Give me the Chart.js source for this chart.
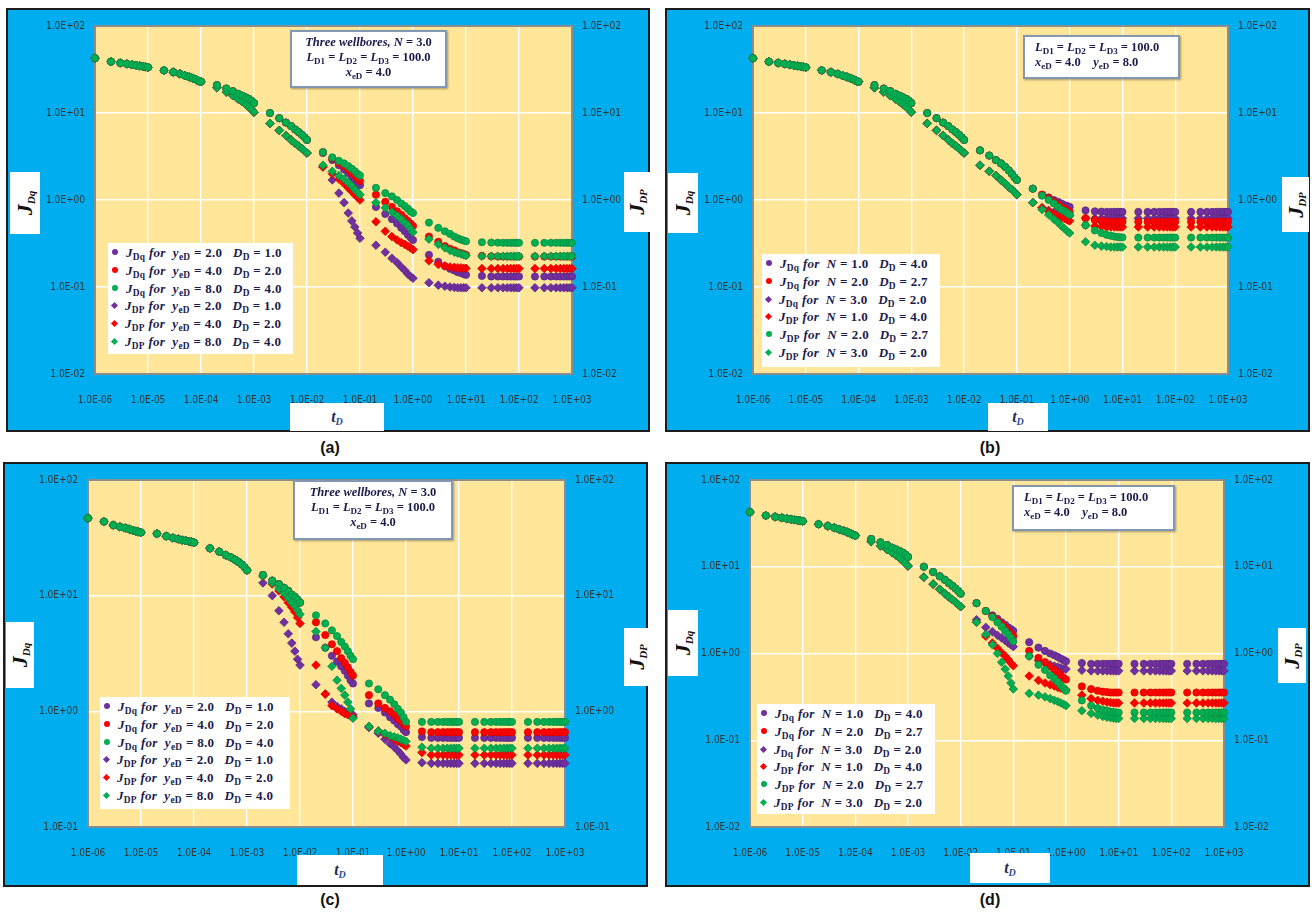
<!DOCTYPE html>
<html>
<head>
<meta charset="utf-8">
<script src="https://cdn.jsdelivr.net/npm/chart.js@4.4.0/dist/chart.umd.min.js"></script>
<style>
  html, body { margin: 0; padding: 0; background: #fff; }
  body { width: 1315px; height: 917px; position: relative; overflow: hidden; }
  .panel { position: absolute; box-sizing: border-box; border: 2px solid #1c1c1c; background: #00AEEF; }
  .panel canvas { position: absolute; left: 0; top: 0; }
  .box { position: absolute; background: #fff; box-sizing: border-box; }
  .note { border: 2px solid #8497B0; box-shadow: 1px 1px 2px rgba(0,0,0,0.35);
          font-family: 'Liberation Serif', 'DejaVu Serif', serif; font-weight: bold;
          font-size: 12.5px; color: #1b1b4b; line-height: 15px; padding-top: 3px; }
  .legend { font-family: 'Liberation Serif', 'DejaVu Serif', serif; font-weight: bold;
            font-size: 13px; color: #1b1b4b; letter-spacing: 0.3px; }
  .legend .row { position: absolute; left: 4px; white-space: nowrap; line-height: 15px; }
  .mk { display: inline-block; width: 6px; height: 6px; margin-right: 8px; vertical-align: 2px; }
  .mk.circle { border-radius: 50%; }
  .mk.rectRot { width: 5px; height: 5px; transform: rotate(45deg); }
  sub { font-size: 0.72em; vertical-align: -0.3em; line-height: 0; }
  .ttl { font-family: 'Liberation Serif', 'DejaVu Serif', serif; font-weight: bold; font-style: italic; color: #111; }
  .ttl .in { position: absolute; left: 50%; top: 50%; white-space: nowrap; line-height: 1; }
  .cap { position: absolute; font: bold 16px 'Liberation Sans', Arial, sans-serif; color: #111; transform: translateX(-50%); }
</style>
</head>
<body>
<script>
// sample times (dimensionless time t_D)
const tD = [
  1e-6, 2e-6, 3e-6, 4e-6, 5e-6, 6e-6, 7e-6, 8e-6, 9e-6,
  1e-5, 2e-5, 3e-5, 4e-5, 5e-5, 6e-5, 7e-5, 8e-5, 9e-5,
  1e-4, 2e-4, 3e-4, 4e-4, 5e-4, 6e-4, 7e-4, 8e-4, 9e-4,
  1e-3, 2e-3, 3e-3, 4e-3, 5e-3, 6e-3, 7e-3, 8e-3, 9e-3,
  1e-2, 2e-2, 3e-2, 4e-2, 5e-2, 6e-2, 7e-2, 8e-2, 9e-2,
  1e-1, 2e-1, 3e-1, 4e-1, 5e-1, 6e-1, 7e-1, 8e-1, 9e-1,
  1, 2, 3, 4, 5, 6, 7, 8, 9,
  10, 20, 30, 40, 50, 60, 70, 80, 90,
  100, 200, 300, 400, 500, 600, 700, 800, 900,
  1000
];
const xTicks = [1e-6, 1e-5, 1e-4, 1e-3, 1e-2, 1e-1, 1, 10, 100, 1000];
const yTicksWide = [1e-2, 1e-1, 1, 10, 100];
const yTicksNarrow = [1e-1, 1, 10, 100];

// early time, panels a, b, d (1e-6 .. 1e-2)
const earlyQ = [
  42.7, 38.9, 37.6, 36.7, 35.9, 35.3, 34.8, 34.3, 33.9,
  33.5, 30.9, 29.5, 28.2, 26.9, 26.0, 25.1, 24.3, 23.4,
  22.9, 20.9, 19.1, 17.8, 16.6, 15.8, 15.1, 14.5, 13.8,
  13.0, 10.0, 8.71, 7.76, 7.08, 6.46, 6.03, 5.62, 5.25,
  4.90
];
const earlyP = [
  42.7, 38.9, 37.6, 36.7, 35.9, 35.3, 34.8, 34.3, 33.9,
  33.5, 30.9, 29.5, 28.2, 26.9, 26.0, 25.1, 24.3, 23.4,
  22.9, 19.5, 17.4, 15.8, 14.5, 13.5, 12.6, 11.7, 11.0,
  10.2, 7.59, 6.31, 5.50, 4.90, 4.47, 4.17, 3.89, 3.67,
  3.47
];

// panel a, 2e-2 .. 1e3
const aQ2 = [
  3.47, 2.88, 2.51, 2.24, 2.04, 1.86, 1.70, 1.58, 1.48,
  0.832, 0.692, 0.603, 0.537, 0.479, 0.437, 0.398, 0.372, 0.347,
  0.234, 0.195, 0.174, 0.162, 0.155, 0.148, 0.145, 0.141, 0.138,
  0.134, 0.132, 0.132, 0.132, 0.132, 0.132, 0.132, 0.132, 0.132,
  0.132, 0.132, 0.132, 0.132, 0.132, 0.132, 0.132, 0.132, 0.132
];
const aQ4 = [
  3.55, 3.02, 2.69, 2.45, 2.24, 2.04, 1.91, 1.78, 1.66,
  1.15, 0.955, 0.832, 0.741, 0.676, 0.617, 0.575, 0.537, 0.501,
  0.380, 0.331, 0.295, 0.275, 0.263, 0.251, 0.245, 0.240, 0.234,
  0.228, 0.225, 0.224, 0.224, 0.224, 0.224, 0.224, 0.224, 0.224,
  0.224, 0.224, 0.224, 0.224, 0.224, 0.224, 0.224, 0.224, 0.224
];
const aQ8 = [
  3.55, 3.09, 2.82, 2.63, 2.45, 2.29, 2.14, 2.00, 1.91,
  1.38, 1.20, 1.10, 1.00, 0.912, 0.851, 0.794, 0.741, 0.708,
  0.550, 0.479, 0.437, 0.407, 0.380, 0.363, 0.351, 0.343, 0.335,
  0.327, 0.324, 0.323, 0.322, 0.322, 0.322, 0.322, 0.322, 0.322,
  0.322, 0.322, 0.322, 0.322, 0.322, 0.322, 0.322, 0.322, 0.322
];
const aP2 = [
  2.40, 1.70, 1.20, 0.933, 0.708, 0.575, 0.490, 0.417, 0.363,
  0.302, 0.251, 0.214, 0.191, 0.170, 0.155, 0.141, 0.132, 0.126,
  0.112, 0.105, 0.102, 0.100, 0.099, 0.098, 0.098, 0.098, 0.098,
  0.098, 0.098, 0.098, 0.098, 0.098, 0.098, 0.098, 0.098, 0.098,
  0.098, 0.098, 0.098, 0.098, 0.098, 0.098, 0.098, 0.098, 0.098
];
const aP4 = [
  2.40, 2.00, 1.74, 1.55, 1.38, 1.26, 1.15, 1.07, 1.00,
  0.562, 0.437, 0.380, 0.347, 0.324, 0.309, 0.295, 0.282, 0.269,
  0.200, 0.182, 0.174, 0.170, 0.168, 0.166, 0.166, 0.164, 0.164,
  0.163, 0.163, 0.163, 0.163, 0.163, 0.163, 0.163, 0.163, 0.163,
  0.163, 0.163, 0.163, 0.163, 0.163, 0.163, 0.163, 0.163, 0.163
];
const aP8 = [
  2.51, 2.14, 1.91, 1.74, 1.58, 1.45, 1.32, 1.23, 1.15,
  0.933, 0.813, 0.724, 0.661, 0.603, 0.550, 0.513, 0.468, 0.427,
  0.355, 0.309, 0.282, 0.263, 0.251, 0.245, 0.240, 0.234, 0.229,
  0.226, 0.226, 0.226, 0.226, 0.226, 0.226, 0.226, 0.226, 0.226,
  0.226, 0.226, 0.226, 0.226, 0.226, 0.226, 0.226, 0.226, 0.226
];

// panel b, 2e-2 .. 1e3
const bQ1 = [
  3.72, 3.24, 2.88, 2.63, 2.40, 2.19, 2.00, 1.82, 1.70,
  1.35, 1.15, 1.07, 1.00, 0.955, 0.912, 0.871, 0.851, 0.832,
  0.759, 0.741, 0.735, 0.730, 0.730, 0.730, 0.730, 0.730, 0.730,
  0.730, 0.730, 0.730, 0.730, 0.730, 0.730, 0.730, 0.730, 0.730,
  0.730, 0.730, 0.730, 0.730, 0.730, 0.730, 0.730, 0.730, 0.730
];
const bQ2 = [
  3.72, 3.24, 2.88, 2.63, 2.40, 2.19, 2.00, 1.82, 1.70,
  1.35, 1.15, 1.05, 0.955, 0.891, 0.832, 0.794, 0.759, 0.724,
  0.617, 0.589, 0.575, 0.569, 0.562, 0.562, 0.562, 0.562, 0.562,
  0.562, 0.562, 0.562, 0.562, 0.562, 0.562, 0.562, 0.562, 0.562,
  0.562, 0.562, 0.562, 0.562, 0.562, 0.562, 0.562, 0.562, 0.562
];
const bQ3 = [
  3.72, 3.24, 2.88, 2.63, 2.40, 2.19, 2.00, 1.82, 1.70,
  1.35, 1.12, 1.00, 0.912, 0.832, 0.776, 0.741, 0.708, 0.676,
  0.513, 0.447, 0.417, 0.398, 0.389, 0.380, 0.376, 0.372, 0.372,
  0.370, 0.370, 0.370, 0.370, 0.370, 0.370, 0.370, 0.370, 0.370,
  0.370, 0.370, 0.370, 0.370, 0.370, 0.370, 0.370, 0.370, 0.370
];
const bP1 = [
  2.51, 2.14, 1.91, 1.70, 1.55, 1.41, 1.32, 1.23, 1.15,
  0.933, 0.813, 0.759, 0.724, 0.708, 0.692, 0.676, 0.668, 0.661,
  0.620, 0.615, 0.615, 0.615, 0.615, 0.615, 0.615, 0.615, 0.615,
  0.615, 0.615, 0.615, 0.615, 0.615, 0.615, 0.615, 0.615, 0.615,
  0.615, 0.615, 0.615, 0.615, 0.615, 0.615, 0.615, 0.615, 0.615
];
const bP2 = [
  2.51, 2.14, 1.91, 1.70, 1.55, 1.41, 1.32, 1.23, 1.15,
  0.933, 0.813, 0.741, 0.692, 0.661, 0.631, 0.610, 0.589, 0.575,
  0.513, 0.501, 0.495, 0.490, 0.490, 0.490, 0.490, 0.490, 0.490,
  0.490, 0.490, 0.490, 0.490, 0.490, 0.490, 0.490, 0.490, 0.490,
  0.490, 0.490, 0.490, 0.490, 0.490, 0.490, 0.490, 0.490, 0.490
];
const bP3 = [
  2.51, 2.14, 1.91, 1.70, 1.55, 1.41, 1.32, 1.23, 1.15,
  0.933, 0.776, 0.676, 0.603, 0.550, 0.501, 0.468, 0.437, 0.417,
  0.331, 0.302, 0.295, 0.292, 0.288, 0.288, 0.288, 0.288, 0.288,
  0.288, 0.288, 0.288, 0.288, 0.288, 0.288, 0.288, 0.288, 0.288,
  0.288, 0.288, 0.288, 0.288, 0.288, 0.288, 0.288, 0.288, 0.288
];

// panel c, 1e-6 .. 1e-3 shared, then 2e-3 .. 1e3 per series
const earlyC = [
  46.8, 43.7, 40.7, 39.4, 38.5, 37.6, 36.7, 36.1, 35.6,
  35.2, 34.3, 32.7, 31.6, 30.9, 30.2, 29.9, 29.5, 29.2,
  28.8, 25.7, 24.0, 22.4, 21.4, 20.4, 19.5, 18.6, 17.6,
  16.6
];
const cQ2 = [
  15.1, 13.5, 12.6, 11.7, 11.0, 10.2, 9.77, 9.23, 8.71,
  4.37, 3.55, 3.02, 2.69, 2.45, 2.24, 2.04, 1.86, 1.74,
  1.17, 1.07, 0.977, 0.891, 0.832, 0.776, 0.741, 0.692, 0.661,
  0.600, 0.590, 0.590, 0.590, 0.590, 0.590, 0.590, 0.590, 0.590,
  0.590, 0.590, 0.590, 0.590, 0.590, 0.590, 0.590, 0.590, 0.590,
  0.590, 0.590, 0.590, 0.590, 0.590, 0.590, 0.590, 0.590, 0.590
];
const cQ4 = [
  15.1, 13.5, 12.6, 11.7, 11.0, 10.2, 9.77, 9.23, 8.71,
  5.89, 4.57, 3.80, 3.31, 2.88, 2.63, 2.40, 2.19, 2.04,
  1.38, 1.17, 1.07, 1.00, 0.933, 0.871, 0.832, 0.776, 0.741,
  0.670, 0.660, 0.660, 0.660, 0.660, 0.660, 0.660, 0.660, 0.660,
  0.660, 0.660, 0.660, 0.660, 0.660, 0.660, 0.660, 0.660, 0.660,
  0.660, 0.660, 0.660, 0.660, 0.660, 0.660, 0.660, 0.660, 0.660
];
const cQ8 = [
  15.1, 13.5, 12.6, 11.7, 11.0, 10.2, 9.77, 9.23, 8.71,
  6.76, 5.75, 5.01, 4.47, 3.98, 3.63, 3.31, 3.02, 2.82,
  1.74, 1.55, 1.38, 1.26, 1.15, 1.05, 0.977, 0.891, 0.813,
  0.810, 0.810, 0.810, 0.810, 0.810, 0.810, 0.810, 0.810, 0.810,
  0.810, 0.810, 0.810, 0.810, 0.810, 0.810, 0.810, 0.810, 0.810,
  0.810, 0.810, 0.810, 0.810, 0.810, 0.810, 0.810, 0.810, 0.810
];
const cP2 = [
  12.9, 10.0, 7.41, 5.89, 4.68, 3.89, 3.31, 2.82, 2.51,
  1.70, 1.41, 1.20, 1.10, 1.05, 1.00, 0.977, 0.955, 0.933,
  0.724, 0.646, 0.575, 0.525, 0.490, 0.457, 0.427, 0.398, 0.380,
  0.360, 0.355, 0.355, 0.355, 0.355, 0.355, 0.355, 0.355, 0.355,
  0.355, 0.355, 0.355, 0.355, 0.355, 0.355, 0.355, 0.355, 0.355,
  0.355, 0.355, 0.355, 0.355, 0.355, 0.355, 0.355, 0.355, 0.355
];
const cP4 = [
  14.8, 12.6, 11.0, 9.77, 8.71, 7.94, 7.24, 6.46, 5.75,
  2.51, 1.41, 1.12, 1.05, 1.00, 0.955, 0.933, 0.912, 0.891,
  0.741, 0.676, 0.631, 0.603, 0.575, 0.550, 0.537, 0.519, 0.501,
  0.440, 0.420, 0.420, 0.420, 0.420, 0.420, 0.420, 0.420, 0.420,
  0.420, 0.420, 0.420, 0.420, 0.420, 0.420, 0.420, 0.420, 0.420,
  0.420, 0.420, 0.420, 0.420, 0.420, 0.420, 0.420, 0.420, 0.420
];
const cP8 = [
  14.8, 12.9, 11.5, 10.5, 9.55, 8.71, 8.13, 7.50, 6.92,
  4.90, 3.55, 2.45, 1.86, 1.58, 1.38, 1.20, 1.05, 0.871,
  0.741, 0.676, 0.646, 0.617, 0.603, 0.589, 0.575, 0.562, 0.550,
  0.490, 0.480, 0.480, 0.480, 0.480, 0.480, 0.480, 0.480, 0.480,
  0.480, 0.480, 0.480, 0.480, 0.480, 0.480, 0.480, 0.480, 0.480,
  0.480, 0.480, 0.480, 0.480, 0.480, 0.480, 0.480, 0.480, 0.480
];

// panel d, 2e-2 .. 1e3
const dQ1 = [
  3.80, 3.09, 2.75, 2.51, 2.29, 2.14, 2.00, 1.91, 1.82,
  1.35, 1.17, 1.07, 1.00, 0.955, 0.912, 0.871, 0.841, 0.813,
  0.776, 0.760, 0.760, 0.760, 0.760, 0.760, 0.760, 0.760, 0.760,
  0.760, 0.760, 0.760, 0.760, 0.760, 0.760, 0.760, 0.760, 0.760,
  0.760, 0.760, 0.760, 0.760, 0.760, 0.760, 0.760, 0.760, 0.760
];
const dQ2 = [
  3.80, 3.09, 2.69, 2.40, 2.19, 2.00, 1.82, 1.70, 1.58,
  1.07, 0.891, 0.794, 0.708, 0.646, 0.603, 0.562, 0.525, 0.501,
  0.417, 0.389, 0.372, 0.363, 0.359, 0.355, 0.355, 0.355, 0.355,
  0.355, 0.355, 0.355, 0.355, 0.355, 0.355, 0.355, 0.355, 0.355,
  0.355, 0.355, 0.355, 0.355, 0.355, 0.355, 0.355, 0.355, 0.355
];
const dQ3 = [
  3.80, 3.09, 2.63, 2.29, 2.04, 1.82, 1.66, 1.51, 1.38,
  0.933, 0.741, 0.646, 0.562, 0.513, 0.468, 0.427, 0.398, 0.372,
  0.288, 0.251, 0.234, 0.224, 0.219, 0.214, 0.211, 0.209, 0.209,
  0.209, 0.209, 0.209, 0.209, 0.209, 0.209, 0.209, 0.209, 0.209,
  0.209, 0.209, 0.209, 0.209, 0.209, 0.209, 0.209, 0.209, 0.209
];
const dP1 = [
  2.45, 2.00, 1.78, 1.62, 1.51, 1.41, 1.32, 1.26, 1.20,
  0.933, 0.832, 0.776, 0.741, 0.716, 0.700, 0.684, 0.668, 0.661,
  0.640, 0.631, 0.631, 0.631, 0.631, 0.631, 0.631, 0.631, 0.631,
  0.631, 0.631, 0.631, 0.631, 0.631, 0.631, 0.631, 0.631, 0.631,
  0.631, 0.631, 0.631, 0.631, 0.631, 0.631, 0.631, 0.631, 0.631
];
const dP2 = [
  2.29, 1.58, 1.32, 1.15, 1.02, 0.933, 0.851, 0.776, 0.724,
  0.550, 0.490, 0.457, 0.437, 0.422, 0.407, 0.398, 0.389, 0.380,
  0.331, 0.302, 0.288, 0.282, 0.275, 0.272, 0.269, 0.269, 0.269,
  0.269, 0.269, 0.269, 0.269, 0.269, 0.269, 0.269, 0.269, 0.269,
  0.269, 0.269, 0.269, 0.269, 0.269, 0.269, 0.269, 0.269, 0.269
];
const dP3 = [
  2.29, 1.66, 1.26, 1.00, 0.794, 0.661, 0.550, 0.457, 0.389,
  0.347, 0.331, 0.316, 0.302, 0.288, 0.279, 0.269, 0.260, 0.251,
  0.219, 0.204, 0.195, 0.188, 0.184, 0.182, 0.180, 0.178, 0.178,
  0.178, 0.178, 0.178, 0.178, 0.178, 0.178, 0.178, 0.178, 0.178,
  0.178, 0.178, 0.178, 0.178, 0.178, 0.178, 0.178, 0.178, 0.178
];

const PURPLE = '#7030A0', RED = '#FF0000', GREEN = '#00B050';
const EDGE = { [PURPLE]: '#5b2785', [RED]: '#d90000', [GREEN]: '#0a8c44' };

// label pieces
const Jq = '<i>J</i><sub>Dq</sub>';
const Jp = '<i>J</i><sub>DP</sub>';
const yeD = v => '<i>y</i><sub>eD</sub> = ' + v;
const DD = v => '<i>D</i><sub>D</sub> = ' + v;
const NN = v => '<i>N</i> = ' + v;
const forY = (J, y, d) => J + ' <i>for</i>&nbsp; ' + yeD(y) + '&nbsp;&nbsp; ' + DD(d);
const forN = (J, n, d) => J + ' <i>for</i>&nbsp; ' + NN(n) + '&nbsp;&nbsp; ' + DD(d);

const noteWell = [
  '<i>Three wellbores, N</i> = 3.0',
  '<i>L</i><sub>D1</sub> = <i>L</i><sub>D2</sub> = <i>L</i><sub>D3</sub> = 100.0',
  '<i>x</i><sub>eD</sub> = 4.0'
];
const noteLen = [
  '<i>L</i><sub>D1</sub> = <i>L</i><sub>D2</sub> = <i>L</i><sub>D3</sub> = 100.0',
  '<i>x</i><sub>eD</sub> = 4.0 &nbsp;&nbsp; <i>y</i><sub>eD</sub> = 8.0'
];

const legendY = [
  { html: forY(Jq, '2.0', '1.0'), color: PURPLE, shape: 'circle' },
  { html: forY(Jq, '4.0', '2.0'), color: RED, shape: 'circle' },
  { html: forY(Jq, '8.0', '4.0'), color: GREEN, shape: 'circle' },
  { html: forY(Jp, '2.0', '1.0'), color: PURPLE, shape: 'rectRot' },
  { html: forY(Jp, '4.0', '2.0'), color: RED, shape: 'rectRot' },
  { html: forY(Jp, '8.0', '4.0'), color: GREEN, shape: 'rectRot' }
];
const legendN = [
  { html: forN(Jq, '1.0', '4.0'), color: PURPLE, shape: 'circle' },
  { html: forN(Jq, '2.0', '2.7'), color: RED, shape: 'circle' },
  { html: forN(Jq, '3.0', '2.0'), color: PURPLE, shape: 'rectRot' },
  { html: forN(Jp, '1.0', '4.0'), color: RED, shape: 'rectRot' },
  { html: forN(Jp, '2.0', '2.7'), color: GREEN, shape: 'circle' },
  { html: forN(Jp, '3.0', '2.0'), color: GREEN, shape: 'rectRot' }
];

const panels = [
  {
    cap: '(a)', capPos: [330, 439],
    box: [6, 8, 644, 424], area: { left: 87, right: 76, top: 16, bottom: 56 },
    yMin: 1e-2, yMax: 1e2, yTicks: yTicksWide,
    series: [
      { label: 'JDq yeD=2', data: earlyQ.concat(aQ2), color: PURPLE, shape: 'circle', z: 4 },
      { label: 'JDq yeD=4', data: earlyQ.concat(aQ4), color: RED, shape: 'circle', z: 2 },
      { label: 'JDq yeD=8', data: earlyQ.concat(aQ8), color: GREEN, shape: 'circle', z: 0 },
      { label: 'JDP yeD=2', data: earlyP.concat(aP2), color: PURPLE, shape: 'rectRot', z: 5 },
      { label: 'JDP yeD=4', data: earlyP.concat(aP4), color: RED, shape: 'rectRot', z: 3 },
      { label: 'JDP yeD=8', data: earlyP.concat(aP8), color: GREEN, shape: 'rectRot', z: 1 }
    ],
    note: { pos: [290, 30, 157, 58], lines: noteWell, align: 'center' },
    legend: { pos: [108, 243, 185, 111], rows: legendY },
    yTitle: [10, 172, 30, 62], y2Title: [624, 172, 26, 60], xTitle: [290, 403, 94, 28]
  },
  {
    cap: '(b)', capPos: [990, 439],
    box: [665, 8, 645, 424], area: { left: 86, right: 80, top: 16, bottom: 56 },
    yMin: 1e-2, yMax: 1e2, yTicks: yTicksWide,
    series: [
      { label: 'JDq N=1', data: earlyQ.concat(bQ1), color: PURPLE, shape: 'circle', z: 4 },
      { label: 'JDq N=2', data: earlyQ.concat(bQ2), color: RED, shape: 'circle', z: 2 },
      { label: 'JDq N=3', data: earlyQ.concat(bQ3), color: GREEN, shape: 'circle', z: 0 },
      { label: 'JDP N=1', data: earlyP.concat(bP1), color: PURPLE, shape: 'rectRot', z: 5 },
      { label: 'JDP N=2', data: earlyP.concat(bP2), color: RED, shape: 'rectRot', z: 3 },
      { label: 'JDP N=3', data: earlyP.concat(bP3), color: GREEN, shape: 'rectRot', z: 1 }
    ],
    note: { pos: [1023, 35, 157, 44], lines: noteLen, align: 'left' },
    legend: { pos: [762, 254, 178, 113], rows: legendN },
    yTitle: [668, 173, 30, 60], y2Title: [1282, 177, 27, 55], xTitle: [988, 403, 60, 28]
  },
  {
    cap: '(c)', capPos: [330, 891],
    box: [3, 462, 645, 425], area: { left: 83, right: 81, top: 14, bottom: 58 },
    yMin: 1e-1, yMax: 1e2, yTicks: yTicksNarrow,
    series: [
      { label: 'JDq yeD=2', data: earlyC.concat(cQ2), color: PURPLE, shape: 'circle', z: 4 },
      { label: 'JDq yeD=4', data: earlyC.concat(cQ4), color: RED, shape: 'circle', z: 2 },
      { label: 'JDq yeD=8', data: earlyC.concat(cQ8), color: GREEN, shape: 'circle', z: 0 },
      { label: 'JDP yeD=2', data: earlyC.concat(cP2), color: PURPLE, shape: 'rectRot', z: 5 },
      { label: 'JDP yeD=4', data: earlyC.concat(cP4), color: RED, shape: 'rectRot', z: 3 },
      { label: 'JDP yeD=8', data: earlyC.concat(cP8), color: GREEN, shape: 'rectRot', z: 1 }
    ],
    note: { pos: [293, 480, 160, 60], lines: noteWell, align: 'center' },
    legend: { pos: [100, 697, 190, 112], rows: legendY },
    yTitle: [6, 622, 28, 66], y2Title: [624, 628, 26, 58], xTitle: [297, 855, 86, 30]
  },
  {
    cap: '(d)', capPos: [990, 891],
    box: [665, 462, 645, 425], area: { left: 83, right: 84, top: 14, bottom: 58 },
    yMin: 1e-2, yMax: 1e2, yTicks: yTicksWide,
    series: [
      { label: 'JDq N=1', data: earlyQ.concat(dQ1), color: PURPLE, shape: 'circle', z: 4 },
      { label: 'JDq N=2', data: earlyQ.concat(dQ2), color: RED, shape: 'circle', z: 2 },
      { label: 'JDq N=3', data: earlyQ.concat(dQ3), color: GREEN, shape: 'circle', z: 0 },
      { label: 'JDP N=1', data: earlyP.concat(dP1), color: PURPLE, shape: 'rectRot', z: 5 },
      { label: 'JDP N=2', data: earlyP.concat(dP2), color: RED, shape: 'rectRot', z: 3 },
      { label: 'JDP N=3', data: earlyP.concat(dP3), color: GREEN, shape: 'rectRot', z: 1 }
    ],
    note: { pos: [1012, 485, 163, 46], lines: noteLen, align: 'left' },
    legend: { pos: [757, 704, 178, 110], rows: legendN },
    yTitle: [668, 610, 30, 66], y2Title: [1278, 628, 28, 55], xTitle: [970, 853, 80, 30]
  }
];

function fmtExp(v) {
  const e = Math.round(Math.log10(v));
  return '1.0E' + (e < 0 ? '-' : '+') + String(Math.abs(e)).padStart(2, '0');
}

const tickFont = { family: "'Liberation Sans Narrow','DejaVu Sans Condensed','Liberation Sans',sans-serif", size: 10 };
const tickColor = '#333333';

const plotArea = {
  id: 'plotArea',
  beforeDraw(chart) {
    const a = chart.chartArea, ctx = chart.ctx;
    ctx.save();
    ctx.fillStyle = '#FFE699';
    ctx.fillRect(a.left, a.top, a.right - a.left, a.bottom - a.top);
    ctx.restore();
  },
  beforeDatasetsDraw(chart) {
    const a = chart.chartArea, ctx = chart.ctx;
    ctx.save();
    ctx.strokeStyle = '#8c8c8c';
    ctx.lineWidth = 2;
    ctx.strokeRect(a.left, a.top, a.right - a.left, a.bottom - a.top);
    ctx.restore();
  }
};

function place(el, pos) {
  el.style.left = pos[0] + 'px';
  el.style.top = pos[1] + 'px';
  el.style.width = pos[2] + 'px';
  el.style.height = pos[3] + 'px';
  document.body.appendChild(el);
  return el;
}

function addTitle(pos, html, rot) {
  const el = document.createElement('div');
  el.className = 'box ttl';
  const s = document.createElement('div');
  s.className = 'in';
  s.innerHTML = html;
  s.style.transform = 'translate(-50%, -50%)' + (rot ? ' rotate(-90deg)' : '');
  el.appendChild(s);
  place(el, pos);
}

function drawPanel(p) {
  const wrap = document.createElement('div');
  wrap.className = 'panel';
  place(wrap, p.box);
  const w = p.box[2] - 4, h = p.box[3] - 4;
  const cv = document.createElement('canvas');
  cv.width = w; cv.height = h;
  cv.style.width = w + 'px'; cv.style.height = h + 'px';
  wrap.appendChild(cv);

  const yAxis = (side, width, grid) => ({
    type: 'logarithmic', position: side, min: p.yMin, max: p.yMax,
    afterBuildTicks: s => { s.ticks = p.yTicks.map(v => ({ value: v })); },
    afterFit: s => { s.width = width; },
    grid: { display: grid, color: '#ffffff', lineWidth: 1.4, drawTicks: false },
    border: { display: false },
    ticks: { callback: fmtExp, font: tickFont, color: tickColor, padding: 10, autoSkip: false }
  });

  new Chart(cv.getContext('2d'), {
    type: 'scatter',
    data: {
      datasets: p.series.map(s => ({
        label: s.label,
        data: tD.map((t, i) => ({ x: t, y: s.data[i] })),
        pointStyle: s.shape,
        pointRadius: s.shape === 'circle' ? 3.6 : 4.3,
        backgroundColor: s.color,
        borderColor: EDGE[s.color],
        borderWidth: 0.8,
        showLine: false,
        clip: false,
        order: s.z
      }))
    },
    options: {
      responsive: false,
      animation: false,
      events: [],
      layout: { padding: { top: p.area.top, left: 0, right: 0, bottom: 0 } },
      plugins: { legend: { display: false }, tooltip: { enabled: false } },
      scales: {
        x: {
          type: 'logarithmic', min: 1e-6, max: 1e3,
          afterBuildTicks: s => { s.ticks = xTicks.map(v => ({ value: v })); },
          afterFit: s => { s.height = p.area.bottom; },
          grid: { color: '#ffffff', lineWidth: 1.4, drawTicks: false },
          border: { display: false },
          ticks: { callback: fmtExp, font: tickFont, color: tickColor, padding: 20, maxRotation: 0, autoSkip: false }
        },
        y: yAxis('left', p.area.left, true),
        y2: yAxis('right', p.area.right, false)
      }
    },
    plugins: [plotArea]
  });

  // parameter note
  const note = document.createElement('div');
  note.className = 'box note';
  note.style.textAlign = p.note.align;
  if (p.note.align === 'left') note.style.paddingLeft = '10px';
  note.innerHTML = p.note.lines.map(l => '<div>' + l + '</div>').join('');
  place(note, p.note.pos);

  // legend box
  const lg = document.createElement('div');
  lg.className = 'box legend';
  p.legend.rows.forEach((r, i) => {
    const row = document.createElement('div');
    row.className = 'row';
    row.style.top = (2 + i * 17.8) + 'px';
    row.innerHTML = '<span class="mk ' + r.shape + '" style="background:' + r.color + '"></span>' + r.html;
    lg.appendChild(row);
  });
  place(lg, p.legend.pos);

  addTitle(p.yTitle, '<span style="font-size:22px">J</span><sub style="font-size:11px">Dq</sub>', true);
  addTitle(p.y2Title, '<span style="font-size:22px">J</span><sub style="font-size:11px">DP</sub>', true);
  addTitle(p.xTitle, '<span style="font-size:16px;color:#1f2a56">t</span><sub style="font-size:10px;color:#2a4a9a">D</sub>', false);

  const cap = document.createElement('div');
  cap.className = 'cap';
  cap.textContent = p.cap;
  cap.style.left = p.capPos[0] + 'px';
  cap.style.top = p.capPos[1] + 'px';
  document.body.appendChild(cap);
}

panels.forEach(drawPanel);
</script>
</body>
</html>
